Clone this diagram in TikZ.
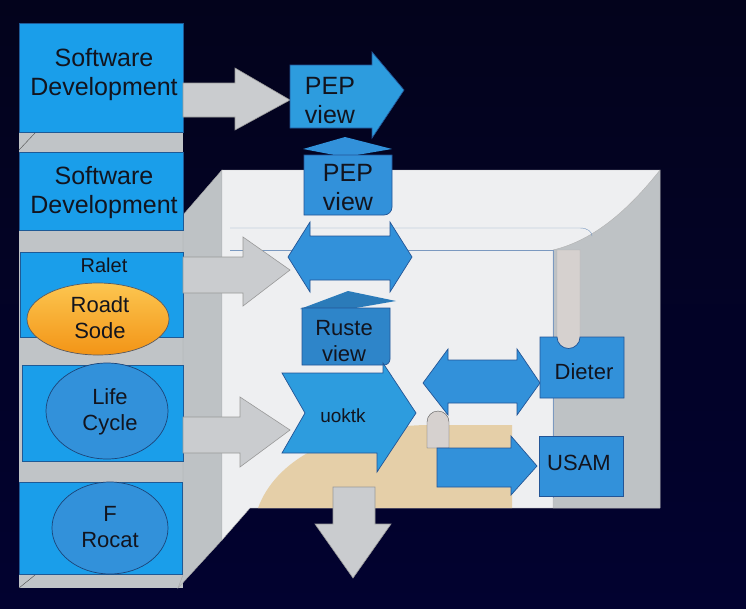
\documentclass[tikz,border=0pt]{standalone}
\usepackage{fontspec}
\setmainfont{Liberation Sans}
\definecolor{NightBlue}{RGB}{3,3,28}
\definecolor{NightLow}{RGB}{2,2,48}
\definecolor{BoxBlue}{RGB}{26,158,234}
\definecolor{BoxEdge}{RGB}{30,90,150}
\definecolor{ArrowBlue}{RGB}{50,145,218}
\definecolor{BlueEdge}{RGB}{35,85,150}
\definecolor{ArrowGray}{RGB}{202,204,207}
\definecolor{ShelfGray}{RGB}{192,196,199}
\definecolor{RoomWhite}{RGB}{238,239,241}
\definecolor{WallGray}{RGB}{190,194,197}
\definecolor{FloorBeige}{RGB}{229,207,168}
\definecolor{PillarGray}{RGB}{214,209,207}
\definecolor{OvalTop}{RGB}{252,198,80}
\definecolor{OvalLow}{RGB}{243,148,22}
\definecolor{InkBlack}{RGB}{18,20,30}
\tikzset{
  lbox/.style={fill=BoxBlue, draw=BoxEdge, line width=0.6pt},
  garrow/.style={fill=ArrowGray, draw=gray!80, line width=0.6pt},
  barrow/.style={fill=ArrowBlue, draw=BlueEdge, line width=0.7pt},
  oval/.style={draw=BlueEdge!80!black, line width=0.7pt, fill=ArrowBlue},
  lbl/.style={font=\fontsize{25}{29}\selectfont, text=InkBlack, align=center, inner sep=0pt},
  sml/.style={font=\fontsize{22}{26}\selectfont, text=InkBlack, align=center, inner sep=0pt},
}
\begin{document}
\begin{tikzpicture}[x=1pt, y=-1pt]
    \useasboundingbox (0,0) rectangle (746,608);
    \shade[top color=NightBlue, bottom color=NightLow] (0,0) rectangle (746,608);

    % column behind the boxes
    \fill[ShelfGray] (19,132) rectangle (183,588);
    \draw[fill=WallGray, draw=gray!70] (183,215) -- (222,170) -- (222,540) -- (178,588) -- (183,575) -- cycle;
    \draw[gray!60!black, thin] (19,150) -- (35,133);
    \draw[gray!60!black, thin] (19,588) -- (35,575);

    % room
    \draw[fill=RoomWhite, draw=gray!60] (222,170) -- (660,170) -- (660,508) -- (250,508) -- (222,540) -- cycle;
    \fill[FloorBeige] (258,508) .. controls (275,462) and (330,428) .. (425,425) -- (512,425) -- (512,508) -- cycle;
    \draw[fill=WallGray, draw=gray!60] (553,250) .. controls (595,240) and (630,208) .. (660,170) -- (660,508) -- (553,508) -- cycle;
    \draw[BlueEdge!60, thin] (230,228) -- (580,228) .. controls (588,228) and (592,232) .. (592,236);
    \draw[BlueEdge!60, thin] (230,250) -- (553,250) -- (553,498);
    \draw[fill=PillarGray, draw=gray!60] (557,250) -- (557,338) arc[start angle=180, end angle=0, radius=11.5] -- (580,250) -- cycle;
    \draw[fill=PillarGray, draw=gray!70!black] (427,448) -- (427,422) arc[start angle=180, end angle=360, radius=11] -- (449,448) -- cycle;

    % left boxes
    \draw[lbox] (19,23) rectangle (183,132);
    \draw[lbox] (19,152) rectangle (183,230);
    \draw[lbox] (20,252) rectangle (183,337);
    \draw[lbox] (22,365) rectangle (183,461);
    \draw[lbox] (19,482) rectangle (182,574);
    \draw[draw=InkBlack!70, line width=0.7pt, top color=OvalTop, bottom color=OvalLow] (98,319) ellipse [x radius=71, y radius=36];
    \draw[oval] (107,411) ellipse [x radius=61, y radius=48];
    \draw[oval] (110,528) ellipse [x radius=58, y radius=46];

    % gray arrows
    \draw[garrow] (183,83) -- (235,83) -- (235,68) -- (290,100) -- (235,130) -- (235,117) -- (183,117) -- cycle;
    \draw[garrow] (183,257) -- (243,257) -- (243,237) -- (290,270) -- (243,306) -- (243,293) -- (183,293) -- cycle;
    \draw[garrow] (183,417) -- (240,417) -- (240,397) -- (290,430) -- (240,467) -- (240,453) -- (183,453) -- cycle;
    \draw[garrow] (333,487) -- (375,487) -- (375,524) -- (391,524) -- (353,578) -- (315,524) -- (333,524) -- cycle;

    % blue arrows and boxes
    \draw[barrow, fill=ArrowBlue!90!cyan] (290,65) -- (372,65) -- (372,52) -- (404,90) -- (372,138) -- (372,128) -- (290,128) -- cycle;
    \fill[ArrowBlue] (303,149) -- (345,137) -- (392,149) -- (345,157) -- cycle;
    \draw[barrow] (304,155) -- (392,155) [rounded corners=8pt] -- (392,215) [sharp corners] -- (304,215) -- cycle;
    \draw[barrow] (288,257) -- (310,222) -- (310,236) -- (390,236) -- (390,222) -- (412,257) -- (390,292) -- (390,280) -- (310,280) -- (310,292) -- cycle;
    \fill[ArrowBlue!85!black] (300,309) -- (348,291) -- (396,301) -- (350,309) -- cycle;
    \draw[barrow, fill=ArrowBlue!92!black] (302,308) -- (390,308) [rounded corners=6pt] -- (390,365) [sharp corners] -- (302,365) -- cycle;
    \draw[barrow, fill=ArrowBlue!90!cyan] (282,373) -- (383,373) -- (383,363) -- (416,413) -- (377,472) -- (377,453) -- (282,453) -- (305,413) -- cycle;
    \draw[barrow] (423,383) -- (448,349) -- (448,360) -- (517,360) -- (517,349) -- (540,383) -- (517,415) -- (517,403) -- (448,403) -- (448,415) -- cycle;
    \draw[barrow] (437,448) -- (511,448) -- (511,436) -- (537,466) -- (511,495) -- (511,487) -- (437,487) -- cycle;
    \draw[barrow] (540,337) -- (557,337) arc[start angle=180, end angle=0, radius=11.5] -- (624,337) -- (624,398) -- (540,398) -- cycle;
    \draw[barrow] (539,436) rectangle (623,496);

    % labels
    \node[lbl] (dev1) at (104,75) {Software\\Development};
    \node[lbl] (dev2) at (104,193) {Software\\Development};
    \node[sml, font=\fontsize{20}{24}\selectfont] (ralet) at (104,265) {Ralet};
    \node[sml] (roadt) at (100,318) {Roadt\\Sode};
    \node[sml] (life) at (110,412) {Life\\Cycle};
    \node[sml] (rocat) at (110,527) {F\\Rocat};
    \node[lbl] (pep1) at (330,101) {PEP\\view};
    \node[lbl] (pep2) at (348,188) {PEP\\view};
    \node[sml] (ruste) at (344,341) {Ruste\\view};
    \node[sml, font=\fontsize{19}{22}\selectfont] (uoktk) at (343,416) {uoktk};
    \node[sml] (dieter) at (584,372) {Dieter};
    \node[sml] (usam) at (579,463) {USAM};
\end{tikzpicture}
\end{document}
